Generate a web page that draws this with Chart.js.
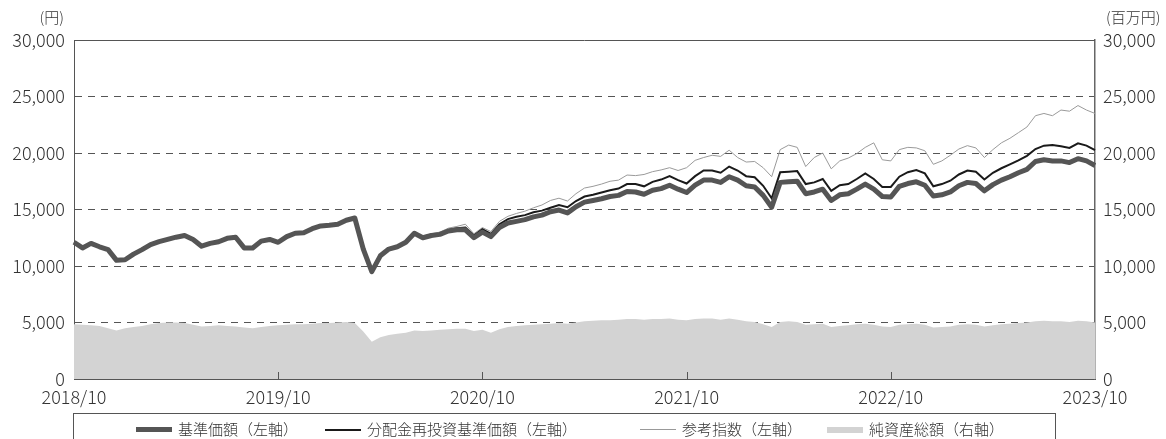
<!DOCTYPE html>
<html>
<head>
<meta charset="utf-8">
<script src="https://cdn.jsdelivr.net/npm/chart.js@4"></script>
<style>
  html, body { margin: 0; padding: 0; background: #fff; }
  #wrap { position: relative; width: 1166px; height: 439px; overflow: hidden; }
  #legend {
    position: absolute; left: 73px; top: 413px; width: 983px; height: 40px;
    border: 1px solid #555; box-sizing: border-box;
    font-family: "Noto Sans CJK JP", "Noto Sans", sans-serif; font-weight: 300; font-size: 15px; color: #333;
  }
  .item { position: absolute; top: 5px; height: 20px; line-height: 20px; white-space: nowrap; }
  .sw { display: inline-block; width: 36px; vertical-align: middle; margin-right: 6px; position: relative; top: -1px; }
</style>
</head>
<body>
<div id="wrap">
  <canvas id="c" width="1166" height="439"></canvas>
  <div id="legend">
    <div class="item" style="left:62px"><span class="sw" style="border-top:5px solid #555"></span>基準価額（左軸）</div>
    <div class="item" style="left:251px"><span class="sw" style="border-top:2px solid #1a1a1a"></span>分配金再投資基準価額（左軸）</div>
    <div class="item" style="left:566px"><span class="sw" style="border-top:1px solid #999"></span>参考指数（左軸）</div>
    <div class="item" style="left:753px"><span class="sw" style="border-top:6px solid #d3d3d3"></span>純資産総額（右軸）</div>
  </div>
</div>
<script>
'use strict';

// tick labels on the date axis
var yearTicks = ['2018/10', '2019/10', '2020/10', '2021/10', '2022/10', '2023/10'];

// 基準価額 (yen), twice a month from 2018/10 to 2023/10
var basePrice = [
  12100, 11600, 12000, 11700, 11450, 10500, 10550, 11050, 11450, 11900,
  12150, 12350, 12550, 12700, 12350, 11750, 12000, 12150, 12450, 12550,
  11600, 11600, 12200, 12350, 12100, 12600, 12900, 12950, 13300, 13550,
  13600, 13700, 14050, 14250, 11500, 9500, 10900, 11500, 11700, 12100,
  12900, 12500, 12700, 12800, 13100, 13200, 13200, 12500, 13000, 12600,
  13400, 13800, 13950, 14100, 14350, 14500, 14800, 14950, 14700, 15250,
  15650, 15800, 15950, 16150, 16250, 16600, 16550, 16350, 16700, 16850,
  17150, 16800, 16500, 17150, 17600, 17600, 17400, 17900, 17600, 17100,
  17000, 16250, 15200, 17400, 17450, 17500, 16400, 16550, 16800, 15800,
  16300, 16400, 16800, 17250, 16800, 16150, 16100, 17050, 17300, 17450,
  17150, 16200, 16300, 16550, 17100, 17400, 17300, 16650, 17200, 17600,
  17900, 18250, 18550, 19250, 19400, 19300, 19300, 19150, 19500, 19300,
  18900
];

// 分配金再投資基準価額 (yen)
var reinvested = [
  12100, 11600, 12000, 11700, 11450, 10500, 10550, 11050, 11450, 11900,
  12150, 12350, 12550, 12700, 12350, 11750, 12000, 12150, 12450, 12550,
  11600, 11600, 12200, 12350, 12100, 12600, 12900, 12950, 13300, 13550,
  13600, 13700, 14050, 14250, 11500, 9500, 10900, 11500, 11700, 12100,
  12900, 12500, 12750, 12850, 13200, 13350, 13400, 12700, 13250, 12850,
  13700, 14150, 14350, 14500, 14750, 14900, 15150, 15400, 15200, 15750,
  16150, 16300, 16500, 16700, 16850, 17250, 17250, 17050, 17450, 17650,
  17950, 17600, 17300, 17950, 18450, 18450, 18250, 18800, 18450, 17950,
  17850, 17100, 16000, 18300, 18350, 18400, 17250, 17400, 17700, 16650,
  17150, 17250, 17700, 18200, 17700, 17000, 17000, 17900, 18300, 18500,
  18200, 17050, 17250, 17550, 18100, 18450, 18350, 17650, 18250, 18650,
  19000, 19350, 19750, 20350, 20650, 20700, 20600, 20450, 20850, 20650,
  20250
];

// 参考指数 (yen)
var refIndex = [
  12100, 11650, 12000, 11750, 11450, 10500, 10600, 11100, 11500, 11950,
  12200, 12400, 12600, 12750, 12400, 11800, 12050, 12200, 12500, 12650,
  11650, 11650, 12250, 12400, 12150, 12650, 12950, 13000, 13350, 13600,
  13650, 13750, 14100, 14250, 11500, 9550, 10950, 11550, 11750, 12150,
  13000, 12650, 12850, 13000, 13350, 13500, 13700, 12850, 13400, 13050,
  13950, 14400, 14650, 14850, 15150, 15400, 15800, 16000, 15750, 16400,
  16900, 17050, 17250, 17500, 17600, 18050, 18000, 18100, 18350, 18500,
  18700, 18450, 18700, 19350, 19600, 19800, 19700, 20250, 19600, 19200,
  19250, 18700, 17900, 20300, 20700, 20500, 18800, 19600, 20000, 18600,
  19300, 19550, 19950, 20500, 20900, 19400, 19300, 20300, 20500, 20450,
  20200, 19000, 19300, 19800, 20350, 20650, 20450, 19600, 20300, 20900,
  21300, 21800, 22300, 23300, 23500, 23300, 23800, 23700, 24200, 23800,
  23500
];

// 純資産総額 (million yen)
var netAssets = [
  4850, 4800, 4750, 4700, 4500, 4300, 4500, 4600, 4700, 4850,
  4950, 5000, 5000, 4950, 4800, 4650, 4700, 4750, 4700, 4650,
  4550, 4500, 4600, 4700, 4750, 4800, 4850, 4850, 4900, 4950,
  4950, 5000, 5050, 4950, 4200, 3300, 3700, 3900, 4000, 4100,
  4300, 4250, 4300, 4350, 4400, 4450, 4450, 4250, 4350, 4100,
  4400, 4600, 4700, 4750, 4800, 4850, 4900, 4950, 4900, 5000,
  5100, 5150, 5200, 5200, 5250, 5300, 5300, 5250, 5300, 5300,
  5350, 5250, 5200, 5300, 5350, 5350, 5250, 5350, 5250, 5100,
  5050, 4850, 4600, 5050, 5100, 5050, 4800, 4850, 4900, 4600,
  4700, 4750, 4850, 4900, 4800, 4650, 4600, 4800, 4850, 4900,
  4800, 4550, 4600, 4650, 4800, 4850, 4800, 4650, 4750, 4850,
  4900, 4950, 5000, 5100, 5150, 5100, 5100, 5050, 5150, 5100,
  5000
];

// one category per half month, 2018/10 .. 2023/10
var categories = [];
for (var m = 0; m <= 60; m++) {
  var yr = 2018 + Math.floor((9 + m) / 12), mo = (9 + m) % 12 + 1;
  var ym = yr + '/' + mo;
  categories.push(ym);
  if (m < 60) categories.push(ym + '/16');
}

var FONT = '"Noto Sans CJK JP", "Noto Sans", sans-serif';
var TXT = '#333';

var framePlugin = {
  id: 'frame',
  afterDraw: function (chart) {
    var ctx = chart.ctx, a = chart.chartArea, x = chart.scales.x;
    ctx.save();
    ctx.strokeStyle = '#555';
    ctx.lineWidth = 1;
    ctx.beginPath();
    ctx.moveTo(a.left, a.top + 0.5);
    ctx.lineTo(a.right, a.top + 0.5);
    // small inner ticks on the date axis
    for (var i = 1; i < yearTicks.length - 1; i++) {
      var px = Math.round(x.getPixelForValue(categories.indexOf(yearTicks[i]))) + 0.5;
      ctx.moveTo(px, a.bottom);
      ctx.lineTo(px, a.bottom - 7);
    }
    ctx.stroke();
    ctx.fillStyle = TXT;
    ctx.font = '300 15px ' + FONT;
    ctx.textBaseline = 'middle';
    ctx.textAlign = 'right';
    ctx.fillText('(円)', 64, 17);
    ctx.textAlign = 'left';
    ctx.fillText('(百万円)', 1106, 17);
    ctx.restore();
  }
};

function gridColor(c) {
  var v = c.tick && c.tick.value;
  return (v === 0 || v === 30000) ? 'rgba(0,0,0,0)' : '#555';
}

var tickFont = { family: FONT, size: 18, weight: 300 };
var lineBase = { pointRadius: 0, tension: 0, fill: false, yAxisID: 'y' };

new Chart(document.getElementById('c'), {
  type: 'line',
  data: {
    labels: categories,
    datasets: [
      Object.assign({ label: '基準価額（左軸）', data: basePrice, borderColor: '#555', borderWidth: 5, order: 0, borderJoinStyle: 'round' }, lineBase),
      Object.assign({ label: '分配金再投資基準価額（左軸）', data: reinvested, borderColor: '#1a1a1a', borderWidth: 2, order: 1 }, lineBase),
      Object.assign({ label: '参考指数（左軸）', data: refIndex, borderColor: '#9a9a9a', borderWidth: 1, order: 2 }, lineBase),
      { label: '純資産総額（右軸）', data: netAssets, yAxisID: 'y1', pointRadius: 0, tension: 0,
        fill: 'origin', backgroundColor: '#d3d3d3', borderWidth: 0, borderColor: '#d3d3d3', order: 3 }
    ]
  },
  options: {
    responsive: false,
    animation: false,
    layout: { padding: { top: 40, left: 0, right: 0, bottom: 0 } },
    plugins: { legend: { display: false }, tooltip: { enabled: false } },
    scales: {
      x: {
        offset: false,
        afterFit: function (s) { s.height = 60; },
        grid: { display: false, drawTicks: false },
        border: { display: true, color: '#555', width: 1 },
        ticks: {
          autoSkip: false, maxRotation: 0, padding: 7, color: TXT, font: tickFont,
          callback: function (v) {
            var l = categories[v];
            return yearTicks.indexOf(l) >= 0 ? l : '';
          }
        }
      },
      y: {
        position: 'left', min: 0, max: 30000,
        afterFit: function (s) { s.width = 74; },
        grid: { color: gridColor, lineWidth: 1, drawTicks: false },
        border: { display: true, color: '#555', width: 1, dash: [7, 6] },
        ticks: { stepSize: 5000, padding: 9, color: TXT, font: tickFont,
          callback: function (v) { return v.toLocaleString('en-US'); } }
      },
      y1: {
        position: 'right', min: 0, max: 30000,
        afterFit: function (s) { s.width = 71; },
        grid: { drawOnChartArea: false, drawTicks: false },
        border: { display: true, color: '#666', width: 1.5 },
        ticks: { stepSize: 5000, padding: 8, color: TXT, font: tickFont,
          callback: function (v) { return v.toLocaleString('en-US'); } }
      }
    }
  },
  plugins: [framePlugin]
});
</script>
</body>
</html>
